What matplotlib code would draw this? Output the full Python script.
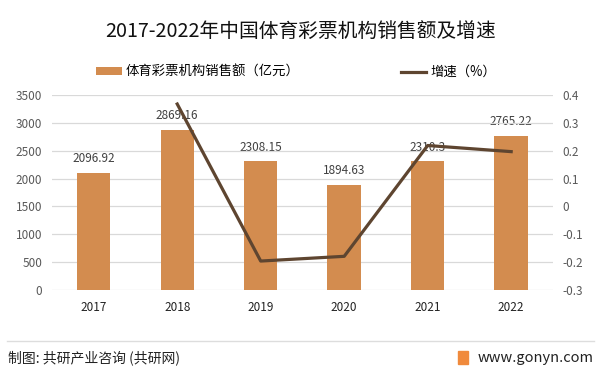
import numpy as np
import matplotlib.pyplot as plt

plt.rcParams['font.family'] = ['Noto Sans CJK SC', 'DejaVu Sans']

years = ['2017', '2018', '2019', '2020', '2021', '2022']
sales = [2096.92, 2869.16, 2308.15, 1894.63, 2310.3, 2765.22]
growth = [np.nan, 0.368, -0.196, -0.179, 0.219, 0.197]

bar_color = '#D38C4F'
line_color = '#5E4530'


def main():
    fig = plt.figure(figsize=(6.01, 3.73), dpi=100)
    ax = fig.add_axes([0.0865, 0.2225, 0.8335, 0.5225])
    x = np.arange(len(years))
    ax.bar(x, sales, width=0.4, color=bar_color, zorder=2, label='体育彩票机构销售额（亿元）')
    for xi, v in zip(x, sales):
        ax.text(xi, v + 140, f'{v:g}', ha='center', va='bottom', fontsize=8.5, color='#404040', zorder=1)
    ax.set_xlim(-0.5, len(years) - 0.5)
    ax.set_ylim(0, 3500)
    ax.set_yticks(np.arange(0, 3501, 500))
    ax.set_xticks(x)
    ax.set_xticklabels(years, fontsize=8.5, color='#222222')
    ax.tick_params(axis='y', labelsize=8.5, labelcolor='#595959', length=0, pad=7)
    ax.tick_params(axis='x', length=0, pad=8)
    ax.grid(axis='y', color='#D9D9D9', linewidth=0.9, zorder=0)
    for s in ax.spines.values():
        s.set_visible(False)

    ax2 = ax.twinx()
    ax2.plot(x, growth, color=line_color, linewidth=2.3, zorder=3, label='增速（%）')
    ax2.set_ylim(-0.3, 0.4)
    ax2.set_yticks(np.round(np.arange(-0.3, 0.41, 0.1), 1))
    ax2.set_yticklabels(['-0.3', '-0.2', '-0.1', '0', '0.1', '0.2', '0.3', '0.4'])
    ax2.tick_params(axis='y', labelsize=8.5, labelcolor='#595959', length=0, pad=7)
    for s in ax2.spines.values():
        s.set_visible(False)

    h1, l1 = ax.get_legend_handles_labels()
    h2, l2 = ax2.get_legend_handles_labels()
    fig.legend(h1 + h2, l1 + l2, loc='center', bbox_to_anchor=(0.493, 0.807), ncol=2,
               frameon=False, fontsize=9.6, columnspacing=7.6, handlelength=1.9,
               handleheight=0.55, handletextpad=0.3)

    fig.text(0.5, 0.917, '2017-2022年中国体育彩票机构销售额及增速', ha='center', va='center',
             fontsize=14.2, color='#111111')

    fig.add_artist(plt.Line2D([0.012, 0.988], [0.086, 0.086], color='#DDDDDD', linewidth=1.0))
    fig.text(0.013, 0.04, '制图: 共研产业咨询 (共研网)', ha='left', va='center', fontsize=10, color='#222222')
    fig.text(0.987, 0.04, 'www.gonyn.com', ha='right', va='center', fontsize=10.5, color='#222222')
    fig.add_artist(plt.Rectangle((0.762, 0.025), 0.016, 0.033, color='#F08A3C', transform=fig.transFigure))

    fig.savefig('out.png', dpi=100)


if __name__ == '__main__':
    main()
